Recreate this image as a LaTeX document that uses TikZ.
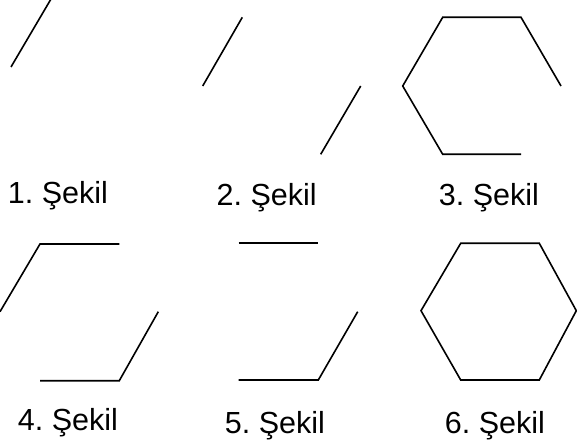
\documentclass[tikz,border=0pt]{standalone}
\usepackage{fontspec}
\setmainfont{Liberation Sans}
\frenchspacing
\begin{document}
\begin{tikzpicture}[x=1pt,y=-1pt,
  edge/.style={line width=1.6pt,line join=miter,line cap=butt},
  lbl/.style={font=\fontsize{30.5}{36}\selectfont,anchor=base,inner sep=0pt}]
\useasboundingbox (0,0) rectangle (577,443);
% Figure 1
\coordinate (aL) at (11,67); \coordinate (aTL) at (51,-1);
\draw[edge] (aL) -- (aTL);
% Figure 2
\coordinate (bL) at (202.7,86); \coordinate (bTL) at (242.3,17.3);
\coordinate (bR) at (360.7,86); \coordinate (bBR) at (320.7,154.3);
\draw[edge] (bL) -- (bTL);
\draw[edge] (bBR) -- (bR);
% Figure 3
\coordinate (cL) at (402.7,86); \coordinate (cTL) at (442.7,17.3);
\coordinate (cTR) at (521,17.3); \coordinate (cR) at (561,86);
\coordinate (cBR) at (521,154.3); \coordinate (cBL) at (442.7,154.3);
\draw[edge] (cR) -- (cTR) -- (cTL) -- (cL) -- (cBL) -- (cBR);
% Figure 4
\coordinate (dL) at (0,311.7); \coordinate (dTL) at (40,244);
\coordinate (dTR) at (119.3,244); \coordinate (dR) at (158.3,311.7);
\coordinate (dBR) at (119.3,380.7); \coordinate (dBL) at (40,380.7);
\draw[edge] (dL) -- (dTL) -- (dTR);
\draw[edge] (dBL) -- (dBR) -- (dR);
% Figure 5
\coordinate (eTL) at (238.7,243.3); \coordinate (eTR) at (318.3,243.3);
\coordinate (eR) at (357.7,311.7); \coordinate (eBR) at (318.3,380);
\coordinate (eBL) at (238.7,380);
\draw[edge] (eTL) -- (eTR);
\draw[edge] (eBL) -- (eBR) -- (eR);
% Figure 6
\coordinate (fL) at (421,310.7); \coordinate (fTL) at (460.7,243.3);
\coordinate (fTR) at (539.3,243.3); \coordinate (fR) at (576.3,310.7);
\coordinate (fBR) at (539.3,380); \coordinate (fBL) at (460.7,380);
\draw[edge] (fL) -- (fTL) -- (fTR) -- (fR) -- (fBR) -- (fBL) -- cycle;
% Labels
\node[lbl] (t1) at (58,204) {1. Şekil};
\node[lbl] (t2) at (266.7,206) {2. Şekil};
\node[lbl] (t3) at (489,206) {3. Şekil};
\node[lbl] (t4) at (68,430) {4. Şekil};
\node[lbl] (t5) at (275,433) {5. Şekil};
\node[lbl] (t6) at (495,433) {6. Şekil};
\end{tikzpicture}
\end{document}
